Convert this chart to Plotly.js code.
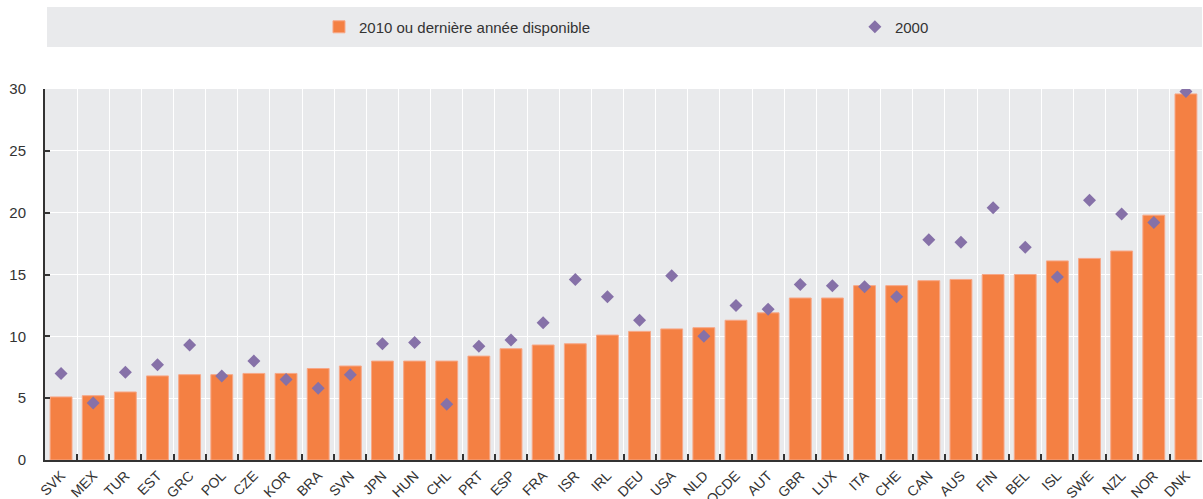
<!DOCTYPE html>
<html>
<head>
<meta charset="utf-8">
<script src="https://cdn.plot.ly/plotly-3.0.1.min.js"></script>
<style>html,body{margin:0;padding:0;background:#fff;}#chart{width:1203px;height:499px;}</style>
</head>
<body>
<div id="chart"></div>
<script>
const countries = ["SVK","MEX","TUR","EST","GRC","POL","CZE","KOR","BRA","SVN","JPN","HUN","CHL","PRT","ESP","FRA","ISR","IRL","DEU","USA","NLD","OCDE","AUT","GBR","LUX","ITA","CHE","CAN","AUS","FIN","BEL","ISL","SWE","NZL","NOR","DNK"];
const values2010 = [5.1,5.2,5.5,6.8,6.9,6.9,7.0,7.0,7.4,7.6,8.0,8.0,8.0,8.4,9.0,9.3,9.4,10.1,10.4,10.6,10.7,11.3,11.9,13.1,13.1,14.1,14.1,14.5,14.6,15.0,15.0,16.1,16.3,16.9,19.8,29.6];
const values2000 = [7.0,4.6,7.1,7.7,9.3,6.8,8.0,6.5,5.8,6.9,9.4,9.5,4.5,9.2,9.7,11.1,14.6,13.2,11.3,14.9,10.0,12.5,12.2,14.2,14.1,14.0,13.2,17.8,17.6,20.4,17.2,14.8,21.0,19.9,19.2,29.8];
const seriesNames = ["2010 ou dernière année disponible", "2000"];

const font = "Liberation Sans, Arial, sans-serif";
const traces = [
  {
    type: "bar",
    name: seriesNames[0],
    x: countries,
    y: values2010,
    marker: {color: "#f48043", line: {color: "#f7a787", width: 1}},
    legend: "legend",
    hoverinfo: "x+y"
  },
  {
    type: "scatter",
    mode: "markers",
    name: seriesNames[1],
    x: countries,
    y: values2000,
    marker: {symbol: "diamond", size: 10, color: "#8671a8"},
    legend: "legend2",
    hoverinfo: "x+y"
  }
];

const legendBase = {
  orientation: "h",
  xanchor: "left",
  y: 1.167,
  yanchor: "middle",
  bgcolor: "rgba(0,0,0,0)",
  font: {family: font, size: 15, color: "#333333"}
};

const layout = {
  width: 1203,
  height: 499,
  margin: {l: 45, r: 1, t: 89, b: 39, pad: 0},
  paper_bgcolor: "#ffffff",
  plot_bgcolor: "#e9eaec",
  bargap: 0.32,
  font: {family: font, size: 14, color: "#333333"},
  showlegend: true,
  legend: Object.assign({}, legendBase, {x: 0.2368}),
  legend2: Object.assign({}, legendBase, {x: 0.7}),
  xaxis: {
    type: "category",
    range: [-0.5, countries.length - 0.5],
    tickson: "boundaries",
    ticks: "inside",
    ticklen: 6,
    tickwidth: 2,
    tickcolor: "#333333",
    showline: true,
    linecolor: "#333333",
    linewidth: 2,
    showgrid: true,
    gridcolor: "#ffffff",
    gridwidth: 1,
    tickangle: -45,
    tickfont: {family: font, size: 14, color: "#333333"},
    automargin: false,
    fixedrange: true
  },
  yaxis: {
    range: [0, 30],
    dtick: 5,
    tick0: 0,
    ticks: "inside",
    ticklen: 5,
    tickwidth: 2,
    tickcolor: "#333333",
    showline: true,
    linecolor: "#333333",
    linewidth: 2,
    showgrid: true,
    gridcolor: "#ffffff",
    gridwidth: 1,
    zeroline: false,
    ticklabelstandoff: 14,
    tickfont: {family: font, size: 15, color: "#333333"},
    automargin: false,
    fixedrange: true
  },
  shapes: [
    {type: "rect", xref: "paper", yref: "paper", x0: 0.0017, x1: 1.0, y0: 1.1132, y1: 1.221,
     fillcolor: "#e9eaec", line: {width: 0}, layer: "below"}
  ]
};

Plotly.newPlot("chart", traces, layout, {displayModeBar: false, staticPlot: true});
</script>
</body>
</html>
